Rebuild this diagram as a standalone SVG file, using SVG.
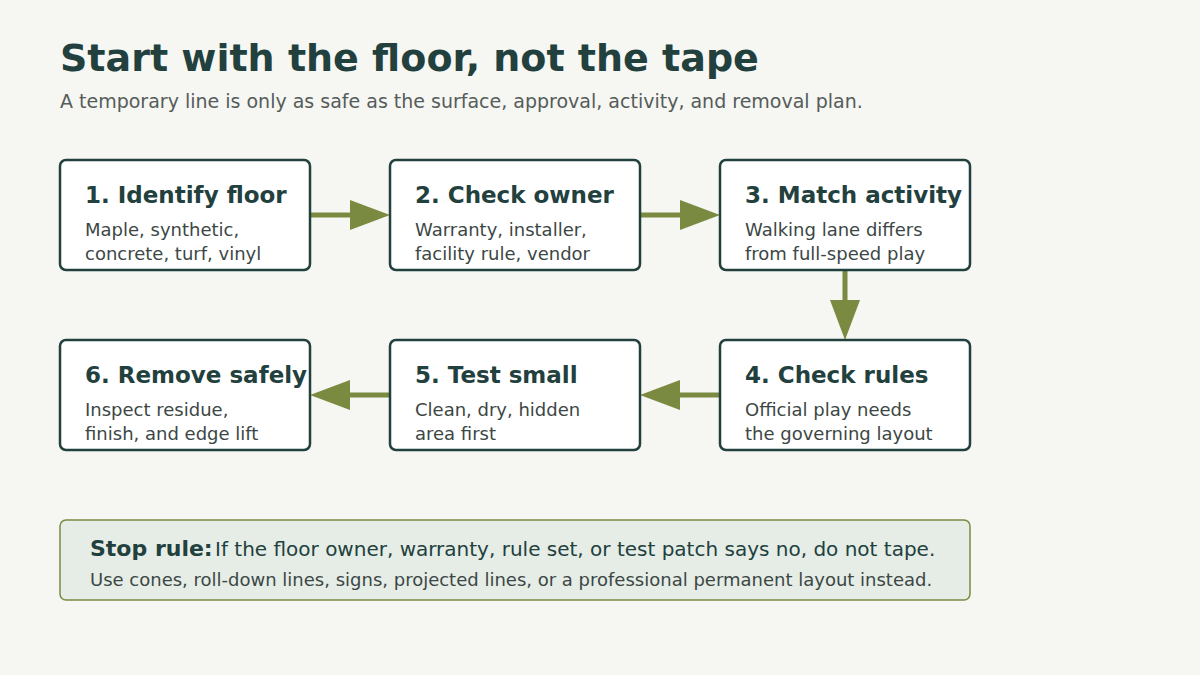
<svg xmlns="http://www.w3.org/2000/svg" width="1200" height="675" viewBox="0 0 1200 675">
<style>
text{font-family:"DejaVu Sans",sans-serif}
.box{fill:#ffffff;stroke:#22403d;stroke-width:2.5}
.h{font-size:23px;font-weight:bold;fill:#22403d}
.s{font-size:18px;fill:#3c4745}
.ln{stroke:#7b8a41;stroke-width:5;fill:none}
.hd{fill:#7b8a41}
</style>
<rect width="1200" height="675" fill="#f6f6f2"/>
<text x="60" y="71" font-size="38" font-weight="bold" fill="#22403d">Start with the floor, not the tape</text>
<text x="60" y="108" font-size="19" fill="#555c5a">A temporary line is only as safe as the surface, approval, activity, and removal plan.</text>
<g id="connectors">
<line class="ln" x1="310" y1="215" x2="352" y2="215"/><polygon class="hd" points="350,200 390,215 350,230"/>
<line class="ln" x1="640" y1="215" x2="682" y2="215"/><polygon class="hd" points="680,200 720,215 680,230"/>
<line class="ln" x1="845" y1="270" x2="845" y2="302"/><polygon class="hd" points="830,300 860,300 845,340"/>
<line class="ln" x1="720" y1="395" x2="678" y2="395"/><polygon class="hd" points="680,380 640,395 680,410"/>
<line class="ln" x1="390" y1="395" x2="348" y2="395"/><polygon class="hd" points="350,380 310,395 350,410"/>
</g>
<g id="n1"><rect class="box" x="60" y="160" width="250" height="110" rx="6"/><text class="h" x="85" y="203">1. Identify floor</text><text class="s" x="85" y="236">Maple, synthetic,</text><text class="s" x="85" y="260">concrete, turf, vinyl</text></g>
<g id="n2"><rect class="box" x="390" y="160" width="250" height="110" rx="6"/><text class="h" x="415" y="203">2. Check owner</text><text class="s" x="415" y="236">Warranty, installer,</text><text class="s" x="415" y="260">facility rule, vendor</text></g>
<g id="n3"><rect class="box" x="720" y="160" width="250" height="110" rx="6"/><text class="h" x="745" y="203">3. Match activity</text><text class="s" x="745" y="236">Walking lane differs</text><text class="s" x="745" y="260">from full-speed play</text></g>
<g id="n4"><rect class="box" x="720" y="340" width="250" height="110" rx="6"/><text class="h" x="745" y="383">4. Check rules</text><text class="s" x="745" y="416">Official play needs</text><text class="s" x="745" y="440">the governing layout</text></g>
<g id="n5"><rect class="box" x="390" y="340" width="250" height="110" rx="6"/><text class="h" x="415" y="383">5. Test small</text><text class="s" x="415" y="416">Clean, dry, hidden</text><text class="s" x="415" y="440">area first</text></g>
<g id="n6"><rect class="box" x="60" y="340" width="250" height="110" rx="6"/><text class="h" x="85" y="383">6. Remove safely</text><text class="s" x="85" y="416">Inspect residue,</text><text class="s" x="85" y="440">finish, and edge lift</text></g>
<g id="stop">
<rect x="60" y="520" width="910" height="80" rx="6" fill="#e5ede6" stroke="#7b8a41" stroke-width="1.5"/>
<text x="90" y="556" font-size="22" font-weight="bold" fill="#22403d">Stop rule:</text>
<text x="215" y="556" font-size="20" fill="#22403d">If the floor owner, warranty, rule set, or test patch says no, do not tape.</text>
<text x="90" y="586" font-size="18" fill="#3c4745">Use cones, roll-down lines, signs, projected lines, or a professional permanent layout instead.</text>
</g>
</svg>
